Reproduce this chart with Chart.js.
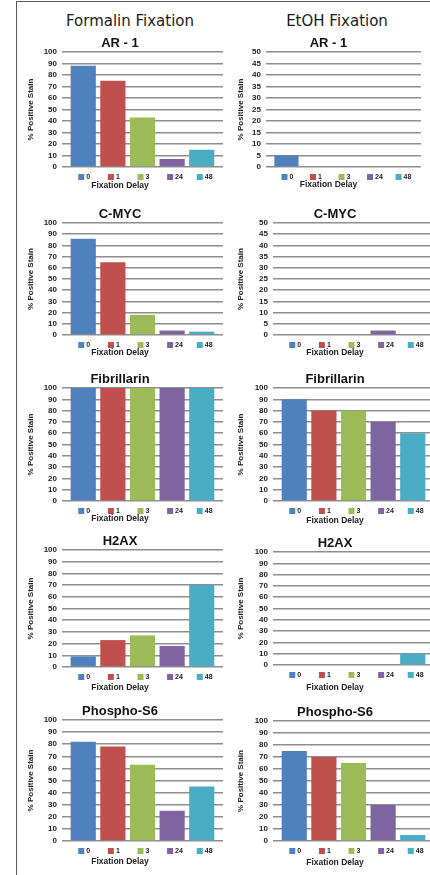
<!DOCTYPE html>
<html>
<head>
<meta charset="utf-8">
<title>Fixation delay staining</title>
<script src="https://cdn.jsdelivr.net/npm/chart.js@4.4.1/dist/chart.umd.min.js"></script>
<style>
  html, body { margin: 0; padding: 0; background: #fff; width: 430px; height: 875px; overflow: hidden; }
  #frame { position: absolute; left: 16px; top: 1px; width: 440px; height: 900px;
           border-left: 1.5px solid #5a5a5a; border-top: 1.5px solid #5a5a5a; }
  .head { position: absolute; top: 12px; width: 200px; height: 18px; line-height: 18px; text-align: center;
          font: 15px "DejaVu Sans", sans-serif; color: #1a1a1a; }
  canvas { position: absolute; }
</style>
</head>
<body>
<div id="frame"></div>
<div class="head" style="left:30px">Formalin Fixation</div>
<div class="head" style="left:237px">EtOH Fixation</div>
<script>
// categories / legend entries
const delays = ['0', '1', '3', '24', '48'];
const delayColors = ['#4F81BD', '#C0504D', '#9BBB59', '#8064A2', '#4BACC6'];
const markers = ['AR - 1', 'C-MYC', 'Fibrillarin', 'H2AX', 'Phospho-S6'];

// % positive stain, formalin fixation
const formalinAR1 = [88, 75, 43, 7, 15];
const formalinCMYC = [86, 65, 18, 4, 3];
const formalinFibrillarin = [100, 100, 100, 100, 100];
const formalinH2AX = [9, 23, 27, 18, 70];
const formalinPhosphoS6 = [82, 78, 63, 25, 45];

// % positive stain, EtOH fixation
const etohAR1 = [5, 0, 0, 0, 0];
const etohCMYC = [0, 0, 0, 2, 0];
const etohFibrillarin = [90, 80, 80, 70, 60];
const etohH2AX = [0, 0, 0, 0, 10];
const etohPhosphoS6 = [75, 70, 65, 30, 5];

// y axis tops
const formalinMax = [100, 100, 100, 100, 100];
const etohMax = [50, 50, 100, 100, 100];

const formalin = [formalinAR1, formalinCMYC, formalinFibrillarin, formalinH2AX, formalinPhosphoS6];
const etoh = [etohAR1, etohCMYC, etohFibrillarin, etohH2AX, etohPhosphoS6];

// panel placement: [canvasTop, plotHeight, xAxisHeight]
const formalinGeom = [[33, 115, 14], [204, 112, 13], [369, 113, 13], [531, 117, 16], [701, 121, 16]];
const etohGeom = [[33, 115, 13], [204, 112, 13], [369, 113, 15], [533, 113, 18], [702, 120, 17]];

const FONT = '"Liberation Sans", Arial, sans-serif';
Chart.defaults.font.family = FONT;
Chart.defaults.color = '#222';

// small legend drawn under each bar
const barLegend = {
  id: 'barLegend',
  afterDraw(chart) {
    const { ctx, chartArea } = chart;
    const y = chartArea.bottom + 10;
    ctx.save();
    ctx.font = 'bold 7px ' + FONT;
    ctx.textBaseline = 'middle';
    chart.data.datasets.forEach((ds, i) => {
      const bar = chart.getDatasetMeta(i).data[0];
      const x0 = bar.x - 5;
      ctx.fillStyle = ds.backgroundColor;
      ctx.fillRect(x0, y - 3, 6, 6);
      ctx.fillStyle = '#222';
      ctx.fillText(ds.label, x0 + 8, y + 0.5);
    });
    ctx.restore();
  }
};

function makePanel(title, values, max, box, geom) {
  const [top, plotH, xH] = geom;
  const canvas = document.createElement('canvas');
  canvas.width = box.width;
  canvas.height = 19 + plotH + xH + 12;
  canvas.style.left = box.left + 'px';
  canvas.style.top = top + 'px';
  document.body.appendChild(canvas);

  new Chart(canvas.getContext('2d'), {
    type: 'bar',
    data: {
      labels: [''],
      datasets: delays.map((d, i) => ({
        label: d,
        data: [values[i]],
        backgroundColor: delayColors[i],
        borderWidth: 0,
        categoryPercentage: 0.92,
        barPercentage: 0.85
      }))
    },
    options: {
      responsive: false,
      animation: false,
      layout: { padding: { right: box.padRight } },
      plugins: {
        legend: { display: false },
        tooltip: { enabled: false },
        title: {
          display: true,
          text: title,
          color: '#111',
          font: { size: 13, weight: 'bold', lineHeight: '16px' },
          padding: { top: 2, bottom: 1 }
        },
        subtitle: {
          display: true,
          position: 'bottom',
          text: 'Fixation Delay',
          color: '#222',
          font: { size: 8.5, weight: 'bold', lineHeight: '10px' },
          padding: { top: 0, bottom: 2 }
        }
      },
      scales: {
        x: {
          grid: { display: false },
          border: { display: false },
          ticks: { display: false },
          afterFit: s => { s.height = xH; }
        },
        y: {
          min: 0,
          max: max,
          ticks: {
            stepSize: max / 10,
            autoSkip: false,
            padding: 5,
            color: '#222',
            font: { size: 8, weight: 'bold' }
          },
          grid: { color: '#8e8e8e', lineWidth: 1.5, drawTicks: false },
          border: { display: false },
          title: {
            display: true,
            text: '% Positive Stain',
            color: '#222',
            font: { size: 8, weight: 'bold' },
            padding: { top: box.titlePad, bottom: 0 }
          },
          afterFit: s => { s.width = box.yWidth; }
        }
      }
    },
    plugins: [barLegend]
  });
}

const leftBox = { left: 17, width: 207, yWidth: 45, padRight: 1, titlePad: 9 };
const rightBox = { left: 236, width: 200, yWidth: 37, padRight: 2, titlePad: 0 };
const rightBoxAR1 = { left: 236, width: 200, yWidth: 30, padRight: 15, titlePad: 0 };

markers.forEach((m, r) => {
  makePanel(m, formalin[r], formalinMax[r], leftBox, formalinGeom[r]);
  makePanel(m, etoh[r], etohMax[r], r === 0 ? rightBoxAR1 : rightBox, etohGeom[r]);
});
</script>
</body>
</html>
